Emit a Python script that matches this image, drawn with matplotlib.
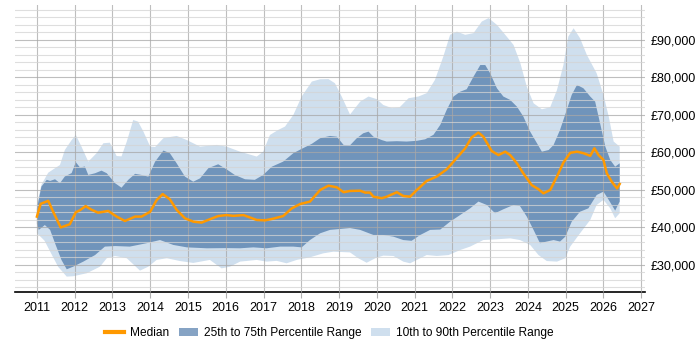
import numpy as np
import matplotlib.pyplot as plt
from matplotlib.ticker import MultipleLocator, FuncFormatter
from matplotlib.patches import Patch
from matplotlib.lines import Line2D

plt.rcParams['font.family'] = ['Liberation Sans', 'DejaVu Sans']

# median
med_x = [2011.0, 2011.1, 2011.3, 2011.43, 2011.63, 2011.87, 2012.03, 2012.14, 2012.29, 2012.45,
         2012.62, 2012.89, 2013.11, 2013.33, 2013.6, 2013.77, 2014.0, 2014.17, 2014.33, 2014.52,
         2014.7, 2014.92, 2015.14, 2015.36, 2015.58, 2015.8, 2016.02, 2016.2, 2016.47, 2016.82,
         2017.04, 2017.26, 2017.52, 2017.75, 2017.97, 2018.23, 2018.5, 2018.72, 2018.94, 2019.12,
         2019.29, 2019.56, 2019.69, 2019.82, 2019.91, 2020.13, 2020.26, 2020.53, 2020.7, 2020.88,
         2021.06, 2021.32, 2021.59, 2021.85, 2022.07, 2022.34, 2022.51, 2022.69, 2022.82, 2023.04,
         2023.22, 2023.4, 2023.53, 2023.71, 2023.88, 2024.1, 2024.28, 2024.41, 2024.59, 2024.77,
         2024.94, 2025.12, 2025.3, 2025.47, 2025.65, 2025.76, 2025.87, 2026.0, 2026.09, 2026.22,
         2026.36, 2026.43]
med_y = [42900, 46300, 47100, 44200, 40000, 40850, 44050, 44600, 45700, 44700,
         43950, 44400, 42900, 41730, 42900, 42900, 44200, 47300, 48900, 47500,
         44700, 42450, 41550, 41300, 42200, 43050, 43300, 43100, 43300, 42000,
         41900, 42350, 43050, 45100, 46250, 46900, 50000, 51150, 50700, 49400,
         49730, 49800, 49300, 49300, 48200, 47800, 48200, 49400, 48400, 48200,
         50000, 52400, 53600, 55500, 58000, 61100, 64000, 65300, 64200, 60400,
         59300, 60200, 59300, 57100, 54400, 51300, 50200, 49100, 50000, 53600,
         57300, 59900, 60200, 59800, 59100, 61100, 59300, 58000, 54400, 52200,
         50400, 51600]

# 75th percentile
p75_x = [2011.0, 2011.12, 2011.26, 2011.35, 2011.48, 2011.61, 2011.74, 2011.92, 2012.03, 2012.14,
         2012.27, 2012.36, 2012.54, 2012.71, 2012.85, 2013.07, 2013.24, 2013.42, 2013.6, 2013.77,
         2013.95, 2014.13, 2014.35, 2014.52, 2014.7, 2014.92, 2015.14, 2015.32, 2015.54, 2015.8,
         2016.02, 2016.24, 2016.51, 2016.77, 2016.99, 2017.22, 2017.52, 2017.79, 2018.01, 2018.28,
         2018.5, 2018.76, 2018.94, 2019.12, 2019.29, 2019.47, 2019.64, 2019.78, 2019.91, 2020.13,
         2020.26, 2020.53, 2020.79, 2021.06, 2021.28, 2021.5, 2021.68, 2021.85, 2022.03, 2022.21,
         2022.38, 2022.56, 2022.74, 2022.87, 2023.0, 2023.18, 2023.35, 2023.53, 2023.71, 2023.88,
         2024.06, 2024.24, 2024.37, 2024.55, 2024.68, 2024.85, 2025.03, 2025.16, 2025.3, 2025.47,
         2025.65, 2025.78, 2025.91, 2026.05, 2026.18, 2026.31, 2026.43]
p75_y = [45000, 50900, 52700, 52400, 52850, 51800, 53600, 54500, 57400, 56000,
         56250, 54000, 54450, 55150, 54450, 51800, 50600, 52700, 54300, 54000,
         53550, 57550, 60500, 59800, 57100, 53550, 52200, 53100, 55800, 56850,
         55500, 54000, 52850, 52700, 54000, 56200, 57550, 59800, 60950, 62300,
         63800, 64400, 64200, 62000, 61900, 63800, 65100, 65550, 64200, 63300,
         62900, 63000, 62900, 63100, 63500, 64700, 67350, 71350, 74900, 76200,
         76850, 80200, 83300, 83300, 81100, 77100, 74900, 74000, 72200, 69550,
         65550, 62450, 60200, 60650, 62000, 66000, 71350, 75350, 78000, 77100,
         74900, 73550, 67800, 61550, 58000, 56200, 57100]

# 25th percentile
p25_x = [2011.0, 2011.05, 2011.21, 2011.35, 2011.48, 2011.65, 2011.79, 2011.96, 2012.23, 2012.54,
         2012.8, 2013.07, 2013.46, 2013.9, 2014.26, 2014.61, 2014.97, 2015.5, 2016.02, 2016.38,
         2016.73, 2017.08, 2017.44, 2017.79, 2018.01, 2018.23, 2018.5, 2018.76, 2019.29, 2019.56,
         2019.91, 2020.17, 2020.44, 2020.7, 2020.92, 2021.15, 2021.41, 2021.68, 2021.94, 2022.21,
         2022.47, 2022.69, 2022.91, 2023.13, 2023.35, 2023.62, 2023.79, 2023.97, 2024.15, 2024.32,
         2024.5, 2024.68, 2024.85, 2024.99, 2025.16, 2025.38, 2025.6, 2025.82, 2026.0, 2026.14,
         2026.31, 2026.43]
p25_y = [41000, 39350, 40650, 39350, 35800, 31350, 28850, 29550, 30900, 32650,
         34900, 35050, 34900, 35800, 36650, 35350, 34700, 34450, 34500, 34450,
         34700, 34450, 34900, 34900, 34700, 36650, 38450, 39350, 39850, 39350,
         38000, 38000, 37550, 36650, 36450, 38000, 39350, 39450, 41550, 43350,
         45100, 46900, 46000, 43800, 44850, 46000, 45700, 42900, 39350, 35800,
         36250, 36650, 36250, 37550, 41550, 44200, 45100, 48650, 49550, 47350,
         44500, 46900]

# 90th percentile
p90_x = [2011.0, 2011.12, 2011.3, 2011.48, 2011.61, 2011.74, 2011.92, 2012.03, 2012.18, 2012.36,
         2012.58, 2012.76, 2012.93, 2013.11, 2013.24, 2013.38, 2013.55, 2013.68, 2013.82, 2014.0,
         2014.13, 2014.35, 2014.7, 2014.97, 2015.32, 2015.76, 2016.02, 2016.38, 2016.82, 2016.99,
         2017.17, 2017.39, 2017.57, 2017.79, 2018.01, 2018.28, 2018.5, 2018.72, 2018.89, 2019.07,
         2019.29, 2019.56, 2019.78, 2020.0, 2020.17, 2020.4, 2020.6, 2020.84, 2021.1, 2021.32,
         2021.54, 2021.76, 2021.94, 2022.12, 2022.34, 2022.56, 2022.78, 2022.96, 2023.18, 2023.4,
         2023.62, 2023.8, 2023.97, 2024.15, 2024.37, 2024.59, 2024.77, 2024.94, 2025.07, 2025.21,
         2025.38, 2025.56, 2025.82, 2026.0, 2026.14, 2026.27, 2026.43]
p90_y = [46000, 51400, 54600, 55800, 56650, 60650, 63300, 64650, 61550, 57550,
         59800, 62450, 62600, 59050, 58950, 62900, 68650, 68200, 65550, 61550,
         61450, 63800, 64400, 63300, 61550, 62000, 61550, 60200, 58900, 60200,
         64650, 66000, 66900, 70000, 74900, 78900, 79500, 79550, 78450, 74900,
         70100, 73550, 74900, 74200, 72650, 71800, 72000, 74450, 74900, 75800,
         79350, 85550, 91350, 92200, 91350, 91800, 94900, 95800, 94000, 91350,
         88650, 83800, 77550, 73100, 71500, 72050, 76650, 83300, 90900, 93100,
         90450, 86000, 81100, 75350, 69550, 62900, 61550]

# 10th percentile
p10_x = [2011.0, 2011.2, 2011.56, 2011.79, 2011.96, 2012.32, 2012.67, 2012.85, 2013.07, 2013.38,
         2013.73, 2013.95, 2014.17, 2014.44, 2014.79, 2015.14, 2015.58, 2015.89, 2016.11, 2016.38,
         2016.82, 2017.08, 2017.35, 2017.61, 2017.88, 2018.23, 2018.58, 2018.85, 2019.29, 2019.51,
         2019.73, 2019.96, 2020.17, 2020.44, 2020.7, 2020.88, 2021.06, 2021.32, 2021.59, 2021.9,
         2022.21, 2022.47, 2022.82, 2023.18, 2023.53, 2023.79, 2024.06, 2024.28, 2024.5, 2024.77,
         2024.99, 2025.12, 2025.38, 2025.65, 2025.82, 2026.0, 2026.18, 2026.31, 2026.43]
p10_y = [38500, 36500, 29550, 26900, 27000, 27800, 29550, 31800, 32400, 31800,
         28500, 29550, 31350, 31800, 31050, 30550, 31350, 29100, 29550, 30900,
         31350, 30900, 31100, 30450, 31350, 32050, 33100, 33550, 33350, 31800,
         30600, 31800, 32500, 32400, 30900, 30450, 31350, 32650, 32400, 32650,
         34000, 34900, 36650, 36850, 37100, 36650, 35350, 32650, 31050, 30900,
         31800, 34900, 38450, 42000, 46000, 47350, 45100, 42450, 43800]

years = list(range(2011, 2028))

light = '#cfdfee'
dark = '#7094bb'
orange = '#ff9900'

fig = plt.figure(figsize=(7, 3.5), dpi=100)
ax = fig.add_axes([15 / 700, 58 / 350, 630 / 700, 287 / 350])

ax.fill(np.r_[p90_x, p10_x[::-1]], np.r_[p90_y, p10_y[::-1]], color=light, lw=0, zorder=1)
ax.fill(np.r_[p75_x, p25_x[::-1]], np.r_[p75_y, p25_y[::-1]], color=dark, lw=0, zorder=2)
ax.plot(med_x, med_y, color=orange, lw=1.8, zorder=4)

ax.set_xlim(2010.42, 2027.1)
ax.set_ylim(22800, 99300)
ax.set_xticks(years)
ax.yaxis.set_major_locator(MultipleLocator(10000))
ax.yaxis.set_minor_locator(MultipleLocator(2000))
ax.yaxis.set_major_formatter(FuncFormatter(lambda v, p: f'£{int(v):,}'))
ax.yaxis.tick_right()

ax.grid(True, which='major', color='#a8a8a8', lw=0.8, alpha=0.75, zorder=3)
ax.grid(True, which='minor', axis='y', color='#d4d4d4', lw=0.8, alpha=0.75, zorder=3)
ax.set_axisbelow(False)

for s in ['left', 'top', 'right']:
    ax.spines[s].set_visible(False)
ax.spines['bottom'].set_color('black')
ax.spines['bottom'].set_linewidth(1.2)
ax.tick_params(axis='x', length=4, color='#b0b0b0', labelsize=9, pad=3)
ax.tick_params(axis='y', which='both', length=0, labelsize=9, pad=4)

handles = [
    Line2D([], [], color=orange, lw=3),
    Patch(facecolor='#86a3c4', edgecolor='none'),
    Patch(facecolor=light, edgecolor='none'),
]
labels = ['Median', '25th to 75th Percentile Range', '10th to 90th Percentile Range']
fig.legend(handles, labels, loc='lower center', bbox_to_anchor=(0.471, 0.0), ncol=3,
           frameon=False, fontsize=8.6, handlelength=1.6, columnspacing=0.8, handletextpad=0.5)

fig.savefig('out.png', dpi=100)
